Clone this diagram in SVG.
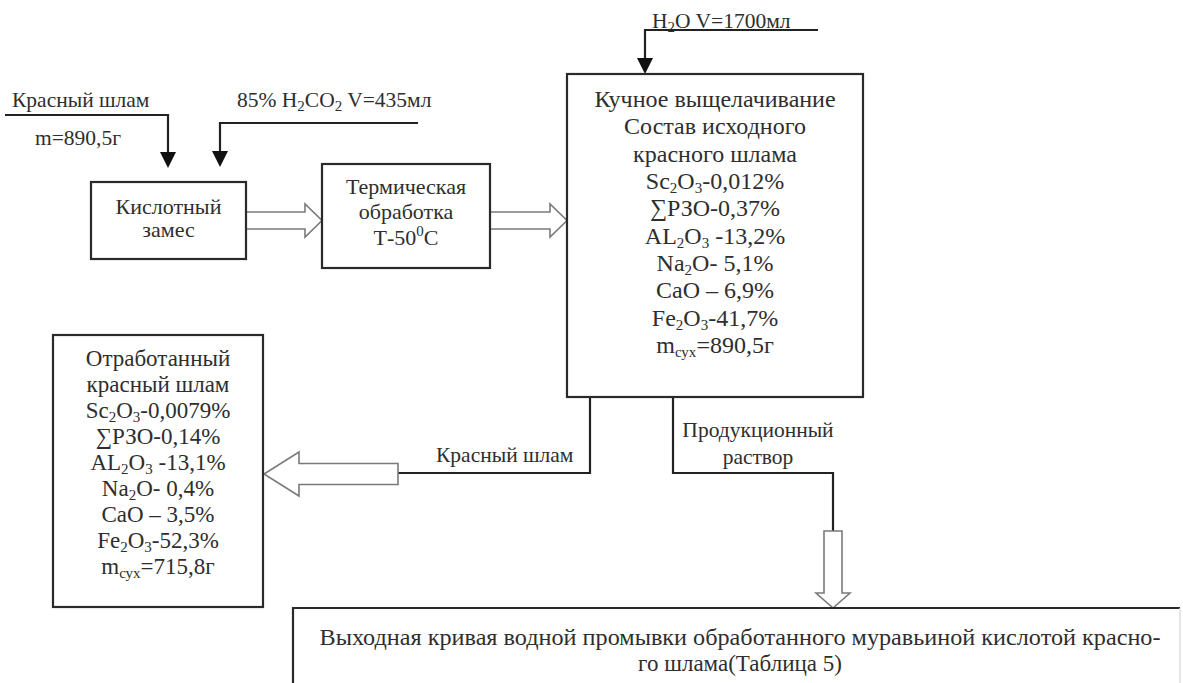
<svg xmlns="http://www.w3.org/2000/svg" width="1183" height="683" viewBox="0 0 1183 683">
  <style>
    .box { fill: #ffffff; stroke: #2a2a2a; stroke-width: 2.2; }
    .ln { fill: none; stroke: #222222; stroke-width: 2.2; }
    .blk { fill: #ffffff; stroke: #7a7a7a; stroke-width: 1.6; stroke-linejoin: miter; }
    text { font-family: "Liberation Serif", "Times New Roman", serif; fill: #2e2e2e; }
    .t { font-size: 22px; text-anchor: middle; }
    .big { font-size: 24px; text-anchor: middle; }
    .mid { font-size: 23px; text-anchor: middle; }
    .l { font-size: 21.5px; }
    .sub { font-size: 15px; }
  </style>
  <defs>
    <marker id="ah" markerUnits="userSpaceOnUse" markerWidth="18" markerHeight="16" refX="12" refY="8" orient="auto">
      <path d="M0,0 L16,8 L0,16 Z" fill="#111111"/>
    </marker>
  </defs>
  <rect width="1183" height="683" fill="#ffffff"/>

  <g id="connectors">
    <path class="ln" d="M5,115 H168 V164" marker-end="url(#ah)"/>
    <path class="ln" d="M418,123 H220 V163" marker-end="url(#ah)"/>
    <path class="ln" d="M818,30 H645 V70" marker-end="url(#ah)"/>
    <path class="ln" d="M590,397 V473 H398"/>
    <path class="ln" d="M673,397 V473 H833 V531"/>
    <polygon class="blk" points="246,212 305,212 305,204 322,220.5 305,237 305,229 246,229"/>
    <polygon class="blk" points="490,212 550,212 550,204 567,220.5 550,237 550,229 490,229"/>
    <polygon class="blk" points="398,463.5 299,463.5 299,452 264,474 299,496 299,484.5 398,484.5"/>
    <polygon class="blk" points="824,531 842,531 842,593 850,593 833,608 816,593 824,593"/>
  </g>

  <g id="labels">
    <text class="l" x="12" y="107">Красный шлам</text>
    <text class="l" x="35" y="145">m=890,5г</text>
    <text class="l" x="237" y="107">85% H<tspan class="sub" dy="4">2</tspan><tspan dy="-4">CO</tspan><tspan class="sub" dy="4">2</tspan><tspan dy="-4"> V=435мл</tspan></text>
    <text class="l" x="652" y="28">H<tspan class="sub" dy="4">2</tspan><tspan dy="-4">O V=1700мл</tspan></text>
    <text class="l" x="436" y="462">Красный шлам</text>
    <text class="l" x="758" y="437" text-anchor="middle">Продукционный</text>
    <text class="l" x="758" y="464" text-anchor="middle">раствор</text>
  </g>

  <g id="node-kislotny">
    <rect class="box" x="91" y="182" width="155" height="77"/>
    <text class="t" x="168.5" y="214">Кислотный</text>
    <text class="t" x="168.5" y="237">замес</text>
  </g>

  <g id="node-termo">
    <rect class="box" x="322" y="164" width="168" height="104"/>
    <text class="t" x="406" y="194">Термическая</text>
    <text class="t" x="406" y="219">обработка</text>
    <text class="t" x="406" y="245">Т-50<tspan class="sub" dy="-9">0</tspan><tspan dy="9">С</tspan></text>
  </g>

  <g id="node-kuchnoe">
    <rect class="box" x="567" y="74" width="296" height="323"/>
    <text class="big" x="715" y="107">Кучное выщелачивание</text>
    <text class="big" x="715" y="134">Состав исходного</text>
    <text class="big" x="715" y="161.5">красного шлама</text>
    <text class="big" x="715" y="189">Sc<tspan class="sub" dy="4">2</tspan><tspan dy="-4">O</tspan><tspan class="sub" dy="4">3</tspan><tspan dy="-4">-0,012%</tspan></text>
    <text class="big" x="715" y="216">∑РЗО-0,37%</text>
    <text class="big" x="715" y="243.5">AL<tspan class="sub" dy="4">2</tspan><tspan dy="-4">O</tspan><tspan class="sub" dy="4">3</tspan><tspan dy="-4"> -13,2%</tspan></text>
    <text class="big" x="715" y="271">Na<tspan class="sub" dy="4">2</tspan><tspan dy="-4">O- 5,1%</tspan></text>
    <text class="big" x="715" y="298">CaO – 6,9%</text>
    <text class="big" x="715" y="325.5">Fe<tspan class="sub" dy="4">2</tspan><tspan dy="-4">O</tspan><tspan class="sub" dy="4">3</tspan><tspan dy="-4">-41,7%</tspan></text>
    <text class="big" x="715" y="353">m<tspan class="sub" dy="4">сух</tspan><tspan dy="-4">=890,5г</tspan></text>
  </g>

  <g id="node-otrabotanny">
    <rect class="box" x="53" y="335" width="210" height="272"/>
    <text class="mid" x="158" y="366">Отработанный</text>
    <text class="mid" x="158" y="392">красный шлам</text>
    <text class="mid" x="158" y="418">Sc<tspan class="sub" dy="4">2</tspan><tspan dy="-4">O</tspan><tspan class="sub" dy="4">3</tspan><tspan dy="-4">-0,0079%</tspan></text>
    <text class="mid" x="158" y="444">∑РЗО-0,14%</text>
    <text class="mid" x="158" y="470">AL<tspan class="sub" dy="4">2</tspan><tspan dy="-4">O</tspan><tspan class="sub" dy="4">3</tspan><tspan dy="-4"> -13,1%</tspan></text>
    <text class="mid" x="158" y="496">Na<tspan class="sub" dy="4">2</tspan><tspan dy="-4">O- 0,4%</tspan></text>
    <text class="mid" x="158" y="522">CaO – 3,5%</text>
    <text class="mid" x="158" y="548">Fe<tspan class="sub" dy="4">2</tspan><tspan dy="-4">O</tspan><tspan class="sub" dy="4">3</tspan><tspan dy="-4">-52,3%</tspan></text>
    <text class="mid" x="158" y="574">m<tspan class="sub" dy="4">сух</tspan><tspan dy="-4">=715,8г</tspan></text>
  </g>

  <g id="node-vyhodnaya">
    <path d="M293,690 V608 H1180" fill="none" stroke="#2a2a2a" stroke-width="2.2"/>
    <path d="M1180,608 V690" fill="none" stroke="#dddddd" stroke-width="1.5"/>
    <text class="mid" x="740" y="645" textLength="841" lengthAdjust="spacingAndGlyphs">Выходная кривая водной промывки обработанного муравьиной кислотой красно-</text>
    <text class="mid" x="740" y="671">го шлама(Таблица 5)</text>
  </g>
</svg>
